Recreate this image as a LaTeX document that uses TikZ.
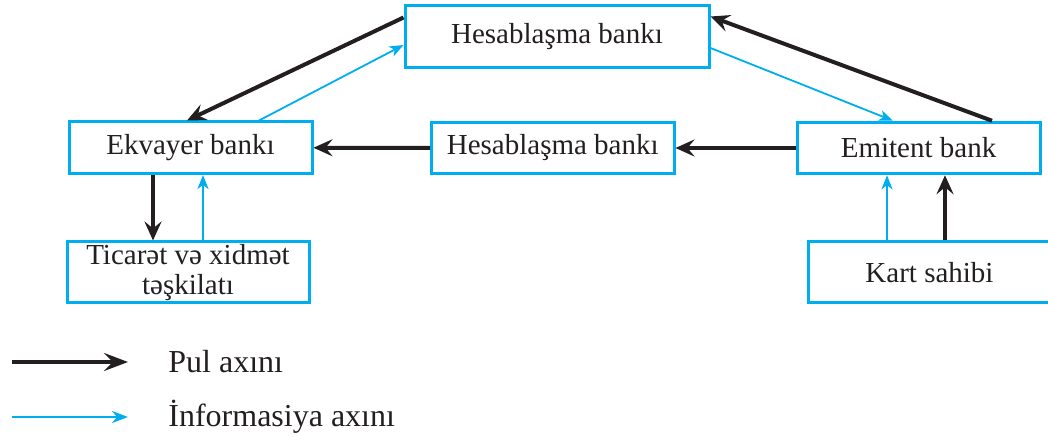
\documentclass[tikz,border=0pt]{standalone}
\usepackage{fontspec}
\setmainfont{Liberation Serif}
\usetikzlibrary{arrows.meta,calc}
\definecolor{cyanb}{RGB}{0,174,239}
\definecolor{blk}{RGB}{35,31,32}
\begin{document}
\begin{tikzpicture}[x=0.5pt,y=-0.5pt,
  box/.style={draw=cyanb, line width=1.5pt, inner sep=0pt, align=center,
    font=\fontsize{14.5}{15}\selectfont, text=blk, minimum width=121.5pt, minimum height=25.75pt},
  money/.style={draw=blk, line width=2pt, -{Stealth[length=9.5pt,width=8.5pt,inset=3.5pt]}},
  info/.style={draw=cyanb, line width=0.9pt, -{Stealth[length=7pt,width=5.5pt,inset=2pt]}},
  lbl/.style={font=\fontsize{16}{17}\selectfont, text=blk, anchor=base west, inner sep=0pt}]
\useasboundingbox (0,0) rectangle (1048,437);
% boxes
\node[box, minimum width=152pt, minimum height=31pt] (top) at (557,37) {Hesablaşma bankı};
\node[box] (ek) at (190.5,147.75) {Ekvayer bankı};
\node[box, minimum width=121.25pt] (mid) at (552.75,148) {Hesablaşma bankı};
\node[box] (em) at (918.5,148) {Emitent bank};
\node[box, minimum width=121pt, minimum height=30.25pt] (tic) at (188,272.25) {Ticarət və xidmət\\təşkilatı};
\node[box, minimum height=30.5pt] (kart) at (929.5,272.5) {Kart sahibi};
% top triangle
\draw[money] ([yshift=-6.5pt]top.north west) -- ([xshift=-1.75pt]ek.north);
\draw[info] ([xshift=34.25pt]ek.north) -- ([yshift=-4pt]top.west);
\draw[info] ([yshift=-5.5pt]top.east) -- ([xshift=-12.75pt]em.north);
\draw[money] ([xshift=36.75pt]em.north) -- ([yshift=-6pt]top.north east);
% middle row
\draw[money] (mid.west) -- (ek.east);
\draw[money] (em.west) -- (mid.east);
% verticals left
\draw[money] ([xshift=-18.75pt]ek.south) -- ([xshift=-18.75pt]ek.south |- tic.north);
\draw[info] ([xshift=7.5pt]tic.north) -- ([xshift=7.5pt]tic.north |- ek.south);
% verticals right
\draw[info] ([xshift=-21.25pt]kart.north) -- ([xshift=-21.25pt]kart.north |- em.south);
\draw[money] ([xshift=7.75pt]kart.north) -- ([xshift=7.75pt]kart.north |- em.south);
% legend
\coordinate (l1a) at (12,362);
\coordinate (l1b) at (128,362);
\coordinate (l2a) at (12,417);
\coordinate (l2b) at (128,417);
\draw[draw=blk, line width=2.2pt, -{Stealth[length=12pt,width=9pt,inset=4.5pt]}] (l1a) -- (l1b);
\draw[draw=cyanb, line width=1pt, -{Stealth[length=8pt,width=6pt,inset=2.5pt]}] (l2a) -- (l2b);
\node[lbl] (t1) at (168,373) {Pul axını};
\node[lbl] (t2) at (168,427) {İnformasiya axını};
\end{tikzpicture}
\end{document}
